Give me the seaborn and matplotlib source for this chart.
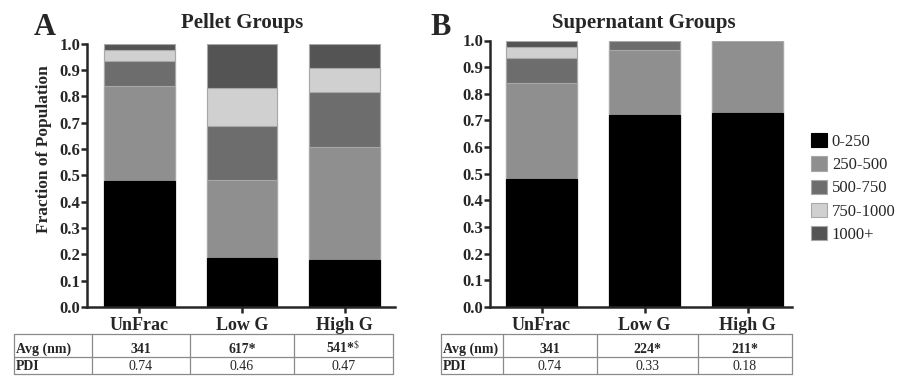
import numpy as np
import pandas as pd
import seaborn as sns
import matplotlib.pyplot as plt
from matplotlib.patches import Patch
from matplotlib.lines import Line2D

groups = ["UnFrac", "Low G", "High G"]
sizes = ["0-250", "250-500", "500-750", "750-1000", "1000+"]
size_colors = ["#000000", "#8f8f8f", "#6d6d6d", "#d0d0d0", "#545454"]

# fraction of population in each size bin (rows follow sizes, columns follow groups)
pellet = [
    [0.480, 0.185, 0.178],
    [0.360, 0.297, 0.428],
    [0.095, 0.206, 0.211],
    [0.040, 0.144, 0.089],
    [0.025, 0.168, 0.094],
]
supernatant = [
    [0.480, 0.720, 0.727],
    [0.360, 0.245, 0.273],
    [0.095, 0.035, 0.000],
    [0.040, 0.000, 0.000],
    [0.025, 0.000, 0.000],
]

avg_pellet = ["341", "617*", r"541*$^{\$}$"]
pdi_pellet = ["0.74", "0.46", "0.47"]
avg_super = ["341", "224*", "211*"]
pdi_super = ["0.74", "0.33", "0.18"]

sns.set_style("ticks")
plt.rcParams['font.family'] = ['Liberation Serif', 'DejaVu Serif']
plt.rcParams['mathtext.fontset'] = 'stix'

W, H = 901, 378
fig = plt.figure(figsize=(W / 100, H / 100), dpi=100)


def px(x, y):
    return x / W, 1 - y / H


def draw_stacked(ax, data, xlim):
    df = pd.DataFrame(data, index=sizes, columns=groups).T
    cum = df.cumsum(axis=1)
    # draw cumulative totals from the top bin down so each layer covers the next
    for size, color in reversed(list(zip(sizes, size_colors))):
        edge = color if size == "0-250" else "#a8a8a8"
        sns.barplot(x=list(cum.index), y=cum[size].values, order=groups, color=color,
                    saturation=1, width=0.69, edgecolor=edge, linewidth=0.8,
                    errorbar=None, ax=ax)
    ax.set_ylim(0, 1.0)
    ax.set_xlim(*xlim)
    ax.set_yticks(np.arange(0, 1.01, 0.1))
    ax.set_yticklabels(["%.1f" % v for v in np.arange(0, 1.01, 0.1)])
    ax.set_xlabel("")
    ax.set_ylabel("")
    sns.despine(ax=ax)
    for s in ["left", "bottom"]:
        ax.spines[s].set_linewidth(1.8)
    ax.tick_params(axis='y', length=4, width=1.8, pad=1, labelsize=12)
    ax.tick_params(axis='x', length=4, width=1.8, pad=3, labelsize=13)
    for lbl in ax.get_xticklabels() + ax.get_yticklabels():
        lbl.set_fontweight('bold')


def draw_table(xs, ys, avg, pdi):
    for x in xs:
        fig.add_artist(Line2D([x / W] * 2, [1 - ys[0] / H, 1 - ys[-1] / H], color='#8a8a8a', lw=0.9))
    for y in ys:
        fig.add_artist(Line2D([xs[0] / W, xs[-1] / W], [1 - y / H] * 2, color='#8a8a8a', lw=0.9))
    rows = [("Avg (nm)", avg, 'bold'), ("PDI", pdi, 'normal')]
    for r, (name, vals, wt) in enumerate(rows):
        yb = 1 - (ys[r + 1] - 3.5) / H
        fig.text((xs[0] + 2) / W, yb, name, ha='left', va='baseline', fontsize=10, fontweight='bold')
        for c, val in enumerate(vals):
            xc = (xs[c + 1] + xs[c + 2]) / 2 / W
            fig.text(xc, yb, val, ha='center', va='baseline', fontsize=10, fontweight=wt)


ax_a = fig.add_axes([87 / W, 1 - 307 / H, (395 - 87) / W, (307 - 43.5) / H])
draw_stacked(ax_a, pellet, (-0.51, 2.49))
ax_b = fig.add_axes([490 / W, 1 - 307 / H, (792 - 490) / W, (307 - 40.5) / H])
draw_stacked(ax_b, supernatant, (-0.5, 2.43))

fig.text(*px(242, 28), "Pellet Groups", ha='center', va='baseline', fontsize=15, fontweight='bold')
fig.text(*px(644, 28), "Supernatant Groups", ha='center', va='baseline', fontsize=15, fontweight='bold')
fig.text(*px(34, 35), "A", ha='left', va='baseline', fontsize=22, fontweight='bold')
fig.text(*px(430, 35), "B", ha='left', va='baseline', fontsize=22, fontweight='bold')
fig.text(*px(44, 149), "Fraction of Population", rotation=90, ha='center', va='center',
         fontsize=12.5, fontweight='bold')

draw_table([14, 92, 190, 294, 393], [334, 356.7, 374], avg_pellet, pdi_pellet)
draw_table([441, 503, 597, 698, 792], [334, 356.7, 374], avg_super, pdi_super)

handles = [Patch(facecolor=c, edgecolor=(c if i == 0 else "#a8a8a8"), linewidth=0.8, label=s)
           for i, (s, c) in enumerate(zip(sizes, size_colors))]
fig.legend(handles=handles, loc='upper left', bbox_to_anchor=px(811, 133), frameon=False,
           borderpad=0, borderaxespad=0, handlelength=0.95, handleheight=0.95,
           handletextpad=0.3, labelspacing=0.38, fontsize=12)

fig.savefig("out.png", dpi=100)
